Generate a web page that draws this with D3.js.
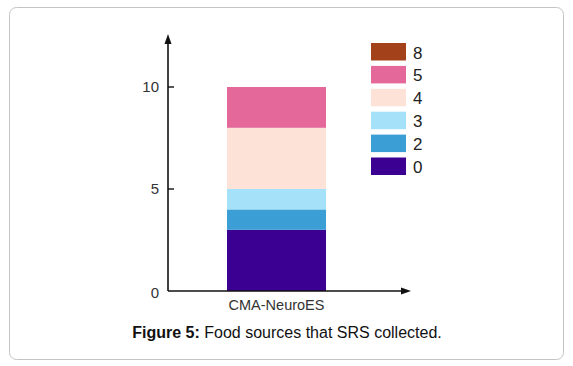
<!DOCTYPE html>
<html><head><meta charset="utf-8">
<script src="https://cdn.jsdelivr.net/npm/d3@7"></script>
<style>body{margin:0;background:#fff;} svg{display:block;font-family:"Liberation Sans",Arial,sans-serif;}</style>
</head><body>
<svg id="c" width="573" height="366"></svg>
<script>
const categories = ["CMA-NeuroES"];
const seriesKeys = ["0", "2", "3", "4", "5", "8"];
const seriesValues = [3, 1, 1, 3, 2, 0];
const seriesColors = ["#3b0092", "#3b9fd5", "#a5e1f8", "#fde2d8", "#e4689a", "#a3411b"];
const yTicks = [0, 5, 10];

const svg = d3.select("#c");
svg.append("rect").attr("x",9.5).attr("y",7.5).attr("width",554).attr("height",352)
  .attr("rx",7).attr("fill","#fff").attr("stroke","#c4c4c4").attr("stroke-width",1);

const x0 = 168, yBase = 291;
const y = d3.scaleLinear().domain([0,10]).range([yBase, 87]);
const x = d3.scaleBand().domain(categories).range([227, 326]).padding(0);

const row = {cat: categories[0]};
seriesKeys.forEach((k,i)=>row[k]=seriesValues[i]);
const stacked = d3.stack().keys(seriesKeys)([row]);

svg.append("g").selectAll("g").data(stacked).join("g")
  .attr("fill",(d,i)=>seriesColors[i])
  .selectAll("rect").data(d=>d).join("rect")
  .attr("x",d=>x(d.data.cat)).attr("width",x.bandwidth())
  .attr("y",d=>y(d[1])).attr("height",d=>y(d[0])-y(d[1]));

// axes
const g = svg.append("g").attr("stroke","#111").attr("stroke-width",1.6);
g.append("line").attr("x1",x0).attr("x2",x0).attr("y1",yBase).attr("y2",42);
g.append("line").attr("x1",x0).attr("x2",403).attr("y1",yBase).attr("y2",yBase);
svg.append("path").attr("d",`M${x0-3.5},${44} L${x0},${34} L${x0+3.5},${44} Z`).attr("fill","#111");
svg.append("path").attr("d",`M${401},${yBase-3.5} L${411},${yBase} L${401},${yBase+3.5} Z`).attr("fill","#111");

const ya = svg.append("g");
ya.selectAll("line").data(yTicks.filter(t=>t>0)).join("line")
  .attr("x1",x0).attr("x2",x0+6).attr("y1",d=>y(d)).attr("y2",d=>y(d))
  .attr("stroke","#111").attr("stroke-width",1.4);
ya.selectAll("text").data(yTicks).join("text")
  .attr("x",159).attr("y",d=>y(d)+(d===0?7:5)).attr("text-anchor","end")
  .attr("font-size",15).attr("fill","#333").text(d=>d);

svg.append("g").selectAll("text").data(categories).join("text")
  .attr("x",d=>x(d)+x.bandwidth()/2).attr("y",310).attr("text-anchor","middle")
  .attr("font-size",14.5).attr("fill","#333").text(d=>d);

// legend (reverse order, top = 8)
const lg = svg.append("g");
const legendItems = seriesKeys.map((k,i)=>({k, c:seriesColors[i]})).reverse();
lg.selectAll("rect").data(legendItems).join("rect")
  .attr("x",371).attr("y",(d,i)=>43+i*22.9).attr("width",35).attr("height",17.5)
  .attr("fill",d=>d.c);
lg.selectAll("text").data(legendItems).join("text")
  .attr("x",413).attr("y",(d,i)=>43+i*22.9+15.5)
  .attr("font-size",17).attr("fill","#222").text(d=>d.k);

// caption
const cap = svg.append("text").attr("x",287).attr("y",338).attr("text-anchor","middle")
  .attr("font-size",16).attr("fill","#111");
cap.append("tspan").attr("font-weight","bold").text("Figure 5:");
cap.append("tspan").text(" Food sources that SRS collected.");
</script>
</body></html>
